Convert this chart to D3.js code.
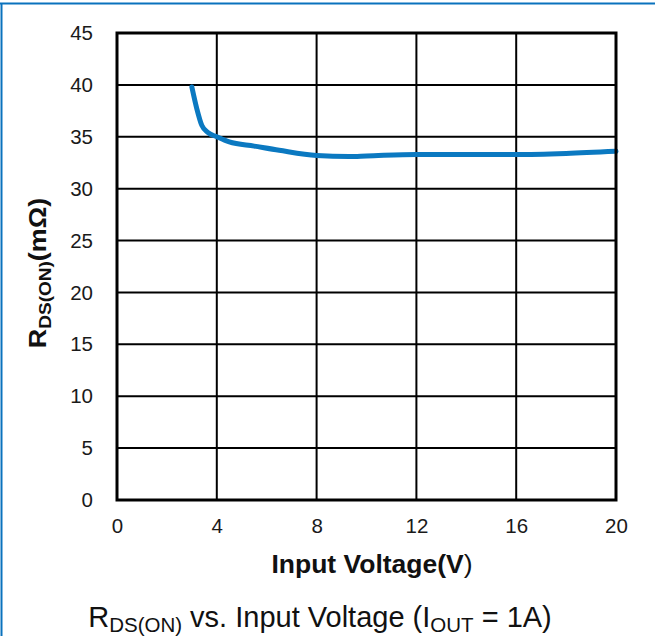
<!DOCTYPE html>
<html>
<head>
<meta charset="utf-8">
<script src="https://cdn.jsdelivr.net/npm/d3@7"></script>
<style>
  html, body { margin: 0; padding: 0; background: #fff; }
  svg { display: block; font-family: "Liberation Sans", Arial, sans-serif; }
</style>
</head>
<body>
<svg id="chart" width="655" height="636"></svg>
<script>
// On-resistance vs. input voltage, IOUT = 1A
const inputVoltage = [3.0, 3.2, 3.4, 3.65, 4.0, 4.5, 5.5, 6.5, 8.0, 9.3, 10.0, 12.0, 14.0, 16.0, 18.0, 20.0];
const rdsOn        = [39.8, 37.7, 36.1, 35.4, 35.0, 34.5, 34.1, 33.7, 33.2, 33.1, 33.15, 33.3, 33.3, 33.3, 33.4, 33.6];
const xTicks = [0, 4, 8, 12, 16, 20];
const yTicks = [0, 5, 10, 15, 20, 25, 30, 35, 40, 45];

const svg = d3.select("#chart");
const plotLeft = 117, plotRight = 616, plotTop = 33, plotBottom = 500;

const x = d3.scaleLinear().domain([0, 20]).range([plotLeft, plotRight]);
const y = d3.scaleLinear().domain([0, 45]).range([plotBottom, plotTop]);

// outer frame lines (top and left)
svg.append("line").attr("x1", 0).attr("x2", 655).attr("y1", 3.5).attr("y2", 3.5)
  .attr("stroke", "#0a72bd").attr("stroke-width", 2);
svg.append("line").attr("x1", 1.5).attr("x2", 1.5).attr("y1", 3).attr("y2", 636)
  .attr("stroke", "#0a72bd").attr("stroke-width", 2);

// grid
const grid = svg.append("g");
grid.selectAll("line.v").data(xTicks.slice(1, -1)).join("line")
  .attr("x1", d => x(d)).attr("x2", d => x(d)).attr("y1", plotTop).attr("y2", plotBottom)
  .attr("stroke", "#000").attr("stroke-width", 2);
grid.selectAll("line.h").data(yTicks.slice(1, -1)).join("line")
  .attr("y1", d => y(d)).attr("y2", d => y(d)).attr("x1", plotLeft).attr("x2", plotRight)
  .attr("stroke", "#000").attr("stroke-width", 2);

// axes (labels only)
const xAxis = svg.append("g").attr("transform", `translate(0,${plotBottom})`)
  .call(d3.axisBottom(x).tickValues(xTicks).tickSize(0).tickPadding(18));
const yAxis = svg.append("g").attr("transform", `translate(${plotLeft},0)`)
  .call(d3.axisLeft(y).tickValues(yTicks).tickSize(0).tickPadding(24));
[xAxis, yAxis].forEach(g => {
  g.attr("font-size", null).attr("font-family", null);
  g.select(".domain").remove();
  g.selectAll("text").style("font-size", "20.5px").attr("fill", "#1a1a1a");
});
xAxis.selectAll("text").attr("dy", "0.71em");

// curve
const line = d3.line().x((d, i) => x(inputVoltage[i])).y(d => y(d)).curve(d3.curveMonotoneX);
svg.append("path").datum(rdsOn).attr("d", line)
  .attr("fill", "none").attr("stroke", "#0b79c1").attr("stroke-width", 5)
  .attr("stroke-linecap", "round").attr("stroke-linejoin", "round");

// plot frame
svg.append("rect").attr("x", plotLeft).attr("y", plotTop)
  .attr("width", plotRight - plotLeft).attr("height", plotBottom - plotTop)
  .attr("fill", "none").attr("stroke", "#000").attr("stroke-width", 3);

// x-axis title
const xt = svg.append("text").attr("transform", "translate(372,573) scale(1.06,1)")
  .attr("text-anchor", "middle").style("font-size", "25px").attr("fill", "#111");
xt.append("tspan").attr("font-weight", "bold").text("Input Voltage(V");
xt.append("tspan").text(")");

// y-axis title
const yt = svg.append("text").attr("transform", "translate(46,273) rotate(-90) scale(1.12,1)")
  .attr("text-anchor", "middle").style("font-size", "24px").attr("font-weight", "bold").attr("fill", "#111");
yt.append("tspan").text("R");
yt.append("tspan").style("font-size", "17px").attr("dy", 5).text("DS(ON)");
yt.append("tspan").attr("dy", -5).text("(mΩ)");

// caption
const cap = svg.append("text").attr("x", 320).attr("y", 627).attr("text-anchor", "middle")
  .style("font-size", "29px").attr("fill", "#111");
cap.append("tspan").text("R");
cap.append("tspan").style("font-size", "20.5px").attr("dy", 5).text("DS(ON)");
cap.append("tspan").attr("dy", -5).text(" vs. Input Voltage (I");
cap.append("tspan").style("font-size", "20.5px").attr("dy", 5).text("OUT");
cap.append("tspan").attr("dy", -5).text(" = 1A)");
</script>
</body>
</html>
